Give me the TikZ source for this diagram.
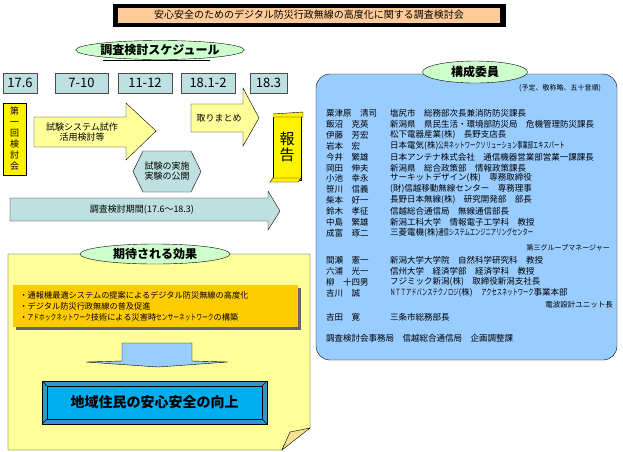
\documentclass[tikz,border=0pt]{standalone}
\usepackage{fontspec}
\setmainfont{Noto Sans CJK JP}
\usetikzlibrary{shapes.geometric,shapes.misc}
\definecolor{datec}{HTML}{BFE0E0}
\definecolor{pyel}{HTML}{FFFF99}
\definecolor{lgreen}{HTML}{CCFFCC}
\definecolor{lblue}{HTML}{99CCFF}
\definecolor{orng}{HTML}{FFCC00}
\definecolor{peach}{HTML}{FFCC99}
\tikzset{
 datebox/.style={draw=black!70,fill=datec,minimum height=20pt,inner sep=0pt,font=\fontsize{13}{13}\selectfont},
 lbl/.style={ellipse,draw,fill=lgreen,inner sep=0pt,font=\bfseries\fontsize{12}{12}\selectfont},
 mem/.style={anchor=west,inner sep=0pt,font=\fontsize{8.5}{9}\selectfont},
 small/.style={font=\fontsize{9}{10}\selectfont,align=center}
}
\begin{document}
\begin{tikzpicture}[x=1pt,y=-1pt]
\useasboundingbox (0,0) rectangle (623,451);
% title
\fill (113,4) rectangle (506,27);
\node[fill=peach,minimum width=382pt,minimum height=15pt,inner sep=0pt,font=\fontsize{10}{10}\selectfont] (title) at (309,15) {安心安全のためのデジタル防災行政無線の高度化に関する調査検討会};
% schedule label
\draw (103,60) -- (210,60);
\node[lbl,minimum width=150pt,minimum height=19pt] (sch) at (160,50) {調査検討スケジュール};
% dates
\node[datebox,minimum width=34pt] (d1) at (20,83) {17.6};
\node[datebox,minimum width=53pt] (d2) at (81.5,83) {7-10};
\node[datebox,minimum width=54pt] (d3) at (145,83) {11-12};
\node[datebox,minimum width=54pt] (d4) at (208,83) {18.1-2};
\node[datebox,minimum width=37pt] (d5) at (268.5,83) {18.3};
% first meeting
\node[draw,fill=yellow,minimum width=23pt,minimum height=72pt,inner sep=0pt,font=\fontsize{9}{11}\selectfont,align=center] (m1) at (14.5,139) {第\\一\\回\\検\\討\\会};
% arrows
\draw[fill=pyel] (34,117) -- (126,117) -- (126,103) -- (156,131) -- (126,160) -- (126,147) -- (34,147) -- cycle;
\node[small] (a1) at (82,132) {試験システム試作\\活用検討等};
\draw[fill=pyel] (191,104) -- (243,104) -- (243,88) -- (259,118) -- (243,146) -- (243,132) -- (191,132) -- cycle;
\node[small] (a2) at (219,118) {取りまとめ};
\draw[fill=datec] (133,171.5) -- (143,151) -- (191,151) -- (201,171.5) -- (191,192) -- (143,192) -- cycle;
\node[small] (hx) at (167,171.5) {試験の実施\\実験の公開};
% report scroll
\draw[fill=yellow] (273,114) rectangle (301,180);
\draw[fill=yellow] (273,114) -- (303,112) -- (303,117) -- (273,117);
\draw[fill=yellow] (270,182) -- (273,178) -- (301,178) -- (298,182) -- cycle;
\node[font=\fontsize{15}{16}\selectfont,align=center] (rep) at (287,147) {報\\告};
% long arrow
\draw[fill=datec] (10,198) -- (268,198) -- (268,191) -- (280,211) -- (268,230) -- (268,221) -- (10,221) -- cycle;
\node[small] (per) at (142,209.5) {調査検討期間(17.6～18.3)};
% committee
\draw[fill=lblue,rounded corners=14pt] (316,74) rectangle (617,360);
\node[lbl,minimum width=105pt,minimum height=22pt] (comm) at (475,72) {構成委員};
\node[font=\fontsize{7}{7}\selectfont] (note) at (560,88) {(予定、敬称略、五十音順)};
\foreach \y/\n/\o in {
113/粟津原　清司/塩尻市　総務部次長兼消防防災課長,
124/飯沼　克英/新潟県　県民生活・環境部防災局　危機管理防災課長,
135/伊藤　芳宏/松下電器産業(株)　長野支店長,
146/岩本　宏/{日本電気(株)\scalebox{0.62}[1]{公共ネットワークソリューション事業部エキスパート}},
157/今井　繁雄/日本アンテナ株式会社　通信機器営業部営業一課課長,
168/岡田　伸夫/新潟県　総合政策部　情報政策課長,
178/小池　幸永/サーキットデザイン(株)　専務取締役,
189/笹川　信義/(財)信越移動無線センター　専務理事,
200/柴本　好一/長野日本無線(株)　研究開発部　部長,
211/鈴木　孝征/信越総合通信局　無線通信部長,
222/中島　繁雄/新潟工科大学　情報電子工学科　教授,
233/成富　琢二/{三菱電機(株)\scalebox{0.62}[1]{通信システムエンジニアリングセンター}},
260/間瀬　憲一/新潟大学大学院　自然科学研究科　教授,
271/六浦　光一/信州大学　経済学部　経済学科　教授,
282/柳　十四男/フジミック新潟(株)　取締役新潟支社長,
293/吉川　誠/{\scalebox{0.62}[1]{ＮＴＴアドバンステクノロジ}(株)　\scalebox{0.62}[1]{アクセスネットワーク}事業本部},
317/吉田　寛/三条市総務部長}
{\node[mem] at (326,\y) {\n}; \node[mem] at (390,\y) {\o};}
\node[mem] (sec) at (326,338) {調査検討会事務局　信越総合通信局　企画調整課};
\node[mem,anchor=east] (m2) at (610,248) {\fontsize{7}{7}\selectfont 第三グループマネージャー};
\node[mem,anchor=east] (m3) at (613,305) {\fontsize{7.5}{7}\selectfont 電波設計ユニット長};
% expected effects
\draw[fill=pyel] (8,254) -- (310,254) -- (310,428) .. controls (295,432) and (285,440) .. (282,450) -- (8,450) -- cycle;
\draw[fill=yellow!60!brown!50] (282,450) -- (290,432) -- (310,428) -- cycle;
\node[lbl,minimum width=150pt,minimum height=20pt] (eff) at (155,254) {期待される効果};
\fill[black!60] (16,288) rectangle (301,330);
\node[fill=orng,minimum width=285pt,minimum height=42pt,inner sep=0pt] (ob) at (155.5,306) {};
\node[anchor=west,align=left,font=\fontsize{8.2}{11}\selectfont] (obt) at (16,306) {・通報機最適システムの提案によるデジタル防災無線の高度化\\・デジタル防災行政無線の普及促進\\・\scalebox{0.7}[1]{アドホックネットワーク}技術による災害時\scalebox{0.7}[1]{センサーネットワーク}の構築};
% down arrow
\draw[fill=lblue] (122,343) -- (192,343) -- (192,361) -- (228,362) -- (158,367) -- (86,362) -- (122,361) -- cycle;
% goal box
\draw[fill=cyan!80!black] (42,381) rectangle (267,424);
\draw[fill=cyan] (47,386) rectangle (262,419);
\draw (42,381) -- (47,386) (267,381) -- (262,386) (42,424) -- (47,419) (267,424) -- (262,419);
\node[font=\bfseries\fontsize{14}{14}\selectfont] (goal) at (154.5,402.5) {地域住民の安心安全の向上};
\end{tikzpicture}
\end{document}
